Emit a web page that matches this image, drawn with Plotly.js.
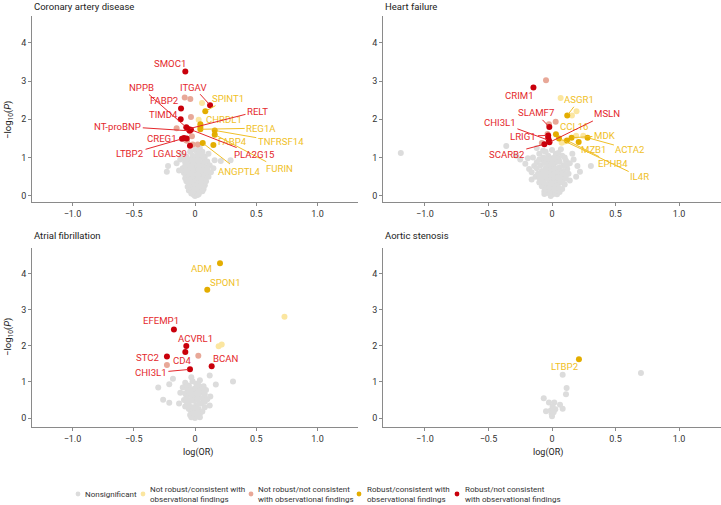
<!DOCTYPE html>
<html><head><meta charset="utf-8">
<script src="https://cdn.plot.ly/plotly-3.0.1.min.js"></script>
<style>html,body{margin:0;padding:0;background:#fff}#chart{width:721px;height:505px}</style>
</head><body><div id="chart"></div>
<script>
// ---------------- DATA ----------------
const categories = ['Nonsignificant',
  'Not robust/consistent with<br>observational findings',
  'Not robust/not consistent<br>with observational findings',
  'Robust/consistent with<br>observational findings',
  'Robust/not consistent<br>with observational findings'];
const panelTitles = ['Coronary artery disease', 'Heart failure', 'Atrial fibrillation', 'Aortic stenosis'];
const xTickVals = [-1, -0.5, 0, 0.5, 1];
const xTickText = ['−1.0', '−0.5', '0', '0.5', '1.0'];
const yTickVals = [0, 1, 2, 3, 4];

// Coronary artery disease
const cadGrayX = [-0.22,-0.23,-0.11,0.16,0.21,0.29,0.10,-0.15,-0.12,-0.10,-0.08,-0.07,-0.05,-0.04,-0.02,0.0,0.02,0.04,0.05,0.07,0.08,0.10,0.12,0.09,0.06,0.03,0.01,-0.01,-0.03,-0.06,-0.09,-0.07,-0.05,-0.02,0.0,0.02,0.04,0.06,0.08,0.11,0.07,0.05,0.03,0.01,-0.01,-0.03,-0.05,-0.07,-0.04,-0.02,0.0,0.02,0.04,0.06,0.08,0.05,0.03,0.01,-0.01,-0.03,-0.05,-0.02,0.0,0.02,0.04,0.01,-0.01,0.0,0.02,-0.03,0.03,-0.06,0.07,0.09,-0.08,0.13,-0.13,0.15,0.11,0.06,-0.09,
  -0.06,-0.04,-0.02,0.0,0.02,0.04,0.06,0.08,0.10,-0.08,-0.06,-0.04,-0.02,0.0,0.02,0.04,0.06,0.08,-0.07,-0.05,-0.03,-0.01,0.01,0.03,0.05,0.07,0.09,-0.04,-0.02,0.0,0.02,0.04,0.06,0.08,-0.03,-0.01,0.01,0.03,0.05,0.07,-0.02,0.0,0.02,0.04,0.06,-0.01,0.01,0.03,0.05,-0.05,0.02,0.04,0.03,0.01];
const cadGrayY = [0.78,0.63,1.10,0.93,0.91,0.93,0.65,0.85,0.95,0.72,0.88,1.02,0.95,1.15,1.05,1.20,1.12,1.25,1.08,0.98,1.02,0.90,0.80,0.75,0.85,0.92,0.82,0.90,0.78,0.70,0.60,0.55,0.62,0.68,0.72,0.66,0.74,0.62,0.55,0.50,0.45,0.52,0.56,0.50,0.58,0.48,0.42,0.38,0.30,0.36,0.40,0.44,0.38,0.32,0.28,0.22,0.27,0.30,0.24,0.18,0.14,0.10,0.15,0.20,0.12,0.06,0.03,0.00,0.02,0.06,0.08,0.24,0.18,0.38,0.46,0.62,0.66,0.72,1.10,1.15,0.97,
  0.95,0.85,0.95,1.00,0.96,1.00,1.05,0.88,0.72,0.78,0.82,0.72,0.80,0.86,0.78,0.86,0.78,0.66,0.66,0.52,0.60,0.66,0.62,0.68,0.66,0.58,0.62,0.40,0.46,0.52,0.56,0.48,0.44,0.40,0.28,0.34,0.40,0.34,0.30,0.32,0.18,0.25,0.30,0.20,0.12,0.12,0.18,0.04,0.36,0.32,1.05,1.15,1.20,0.94];
const cadNrcX = [0.057, 0.03];
const cadNrcY = [2.43, 1.99];
const cadNrnX = [-0.084,-0.038,-0.033,-0.15,-0.025,-0.065,-0.019,0.022,-0.074];
const cadNrnY = [2.57,2.53,2.06,1.77,1.56,1.44,1.34,1.34,1.46];
const cadRcNames = ['SPINT1','CHRDL1','','REG1A','TNFRSF14','FURIN','FABP4','ANGPTL4'];
const cadRcX = [0.084,0.044,0.044,0.044,0.161,0.161,0.15,0.063];
const cadRcY = [2.21,1.87,1.80,1.74,1.71,1.60,1.33,1.38];
const cadRnNames = ['SMOC1','ITGAV','FABP2','TIMD4','NPPB','RELT','NT-proBNP','PLA2G15','CREG1','LTBP2','','LGALS9'];
const cadRnX = [-0.079,0.123,-0.114,-0.117,-0.071,-0.054,-0.044,-0.033,-0.09,-0.106,-0.068,-0.041];
const cadRnY = [3.25,2.37,2.28,2.00,1.79,1.75,1.70,1.73,1.51,1.49,1.50,1.31];

// Heart failure
const hfGrayX = [-1.19,-0.36,-0.21,-0.16,0.306,0.22,-0.28,-0.25,-0.12,-0.10,-0.15,-0.18,-0.14,-0.08,-0.05,-0.03,0.0,0.03,0.05,0.08,0.11,0.14,0.17,0.12,0.09,0.06,0.03,0.01,-0.02,-0.05,-0.08,-0.11,-0.13,-0.09,-0.06,-0.03,0.0,0.02,0.05,0.08,0.11,0.14,0.10,0.07,0.04,0.01,-0.02,-0.05,-0.08,-0.04,-0.01,0.02,0.05,0.08,0.03,0.0,-0.03,-0.06,0.01,-0.01,0.04,-0.10,0.13,-0.16,0.19,-0.12,0.16,-0.07,0.07,-0.19,0.20,-0.02,0.06,
  -0.10,-0.07,-0.04,-0.01,0.02,0.05,0.10,-0.12,-0.09,-0.06,-0.03,0.0,0.03,0.06,0.09,0.12,-0.10,-0.07,-0.04,-0.01,0.02,0.05,0.08,0.11,-0.07,-0.04,-0.01,0.02,0.05,0.08,-0.05,-0.02,0.01,0.04,0.06,-0.02,0.02,-0.06];
const hfGrayY = [1.12,1.30,0.84,0.43,0.78,0.63,1.05,0.95,1.25,1.10,1.00,0.70,0.78,0.95,1.15,1.05,1.20,1.10,0.98,1.05,0.92,0.85,0.95,0.70,0.80,0.75,0.88,0.78,0.85,0.72,0.65,0.58,0.50,0.42,0.50,0.60,0.65,0.58,0.55,0.48,0.45,0.40,0.30,0.35,0.40,0.44,0.38,0.30,0.25,0.20,0.26,0.30,0.22,0.18,0.12,0.15,0.10,0.12,0.05,0.00,0.04,0.35,0.58,0.62,0.50,0.88,1.10,1.18,1.22,0.98,0.78,0.50,0.65,
  0.95,1.00,0.92,0.98,1.00,1.12,1.00,0.72,0.80,0.86,0.76,0.90,0.72,0.90,0.65,0.82,0.48,0.55,0.62,0.70,0.68,0.62,0.58,0.55,0.38,0.45,0.52,0.45,0.48,0.36,0.18,0.22,0.32,0.28,0.10,0.06,0.20,0.05];
const hfNrcX = [0.068,0.193,0.157,0.246,0.19,0.076,0.10];
const hfNrcY = [2.56,2.21,2.10,1.57,1.57,1.39,1.42];
const hfNrnX = [-0.047,0.029,-0.024,-0.08,-0.035];
const hfNrnY = [3.02,1.94,1.87,1.38,1.62];
const hfRcNames = ['ASGR1','CCL16','IL4R','EPHB4','MDK','MZB1','ACTA2'];
const hfRcX = [0.12,0.031,0.055,0.118,0.154,0.21,0.28];
const hfRcY = [2.10,1.61,1.50,1.45,1.52,1.41,1.52];
const hfRnNames = ['CRIM1','SLAMF7','LRIG1','','CHI3L1','MSLN','SCARB2'];
const hfRnX = [-0.146,-0.021,-0.03,-0.03,-0.024,-0.02,-0.06];
const hfRnY = [2.83,1.80,1.58,1.51,1.45,1.40,1.35];

// Atrial fibrillation
const afGrayX = [-0.30,-0.26,-0.21,-0.21,-0.18,-0.03,0.12,0.31,0.17,0.125,-0.12,-0.10,-0.08,-0.05,-0.02,0.01,0.04,0.07,0.09,0.05,0.02,-0.01,-0.04,-0.07,-0.09,-0.06,-0.03,0.0,0.03,0.06,0.08,0.10,0.04,0.01,-0.02,-0.05,-0.08,-0.03,0.0,0.03,0.06,0.02,-0.01,0.0,0.04,-0.04,0.12,-0.13,0.08,-0.06,
  -0.06,-0.03,0.0,0.03,0.06,-0.08,-0.05,-0.02,0.01,0.04,0.07,-0.07,-0.04,-0.01,0.02,0.05,0.08,-0.05,-0.02,0.01,0.04,-0.03,0.02,-0.01];
const afGrayY = [0.85,0.51,0.42,0.94,1.09,1.13,1.18,1.01,0.93,0.60,0.70,0.85,0.98,0.90,1.02,0.95,1.05,0.88,0.78,0.75,0.82,0.72,0.65,0.58,0.50,0.42,0.50,0.58,0.62,0.55,0.45,0.52,0.40,0.35,0.30,0.25,0.32,0.15,0.20,0.25,0.18,0.08,0.05,0.00,0.02,0.08,0.35,0.40,0.65,0.78,
  0.88,0.80,0.82,0.90,0.80,0.68,0.72,0.62,0.68,0.70,0.72,0.46,0.50,0.48,0.50,0.40,0.30,0.38,0.22,0.28,0.12,0.02,0.15,0.12];
const afNrcX = [0.73,0.193,0.218];
const afNrcY = [2.81,1.99,2.04];
const afNrnX = [-0.229,0.027];
const afNrnY = [1.47,1.73];
const afRcNames = ['ADM','SPON1'];
const afRcX = [0.204,0.10];
const afRcY = [4.30,3.56];
const afRnNames = ['EFEMP1','ACVRL1','CD4','STC2','CHI3L1','BCAN'];
const afRnX = [-0.172,-0.071,-0.079,-0.229,-0.041,0.136];
const afRnY = [2.46,2.00,1.83,1.71,1.35,1.44];

// Aortic stenosis
const asGrayX = [0.084,0.70,0.115,0.11,-0.065,-0.024,0.018,0.063,-0.047,-0.01,0.026,0.005,0.084,0.0,-0.003,0.013];
const asGrayY = [1.20,1.25,0.83,0.66,0.55,0.43,0.43,0.37,0.19,0.21,0.24,0.32,0.26,0.05,0.12,0.16];
const asNrcX = [], asNrcY = [];
const asNrnX = [], asNrnY = [];
const asRcNames = ['LTBP2'];
const asRcX = [0.212];
const asRcY = [1.63];
const asRnNames = [], asRnX = [], asRnY = [];

// ---------------- LABEL PLACEMENT (text centre in data units, leader line?) ----------------
const labelPlacement = [
  { // CAD
    SMOC1:[-0.20,3.45,false], ITGAV:[-0.01,2.84,true], FABP2:[-0.25,2.50,false], TIMD4:[-0.26,2.12,false],
    NPPB:[-0.44,2.83,true], 'NT-proBNP':[-0.63,1.82,true], RELT:[0.51,2.21,true], CREG1:[-0.27,1.49,false],
    LTBP2:[-0.53,1.10,true], LGALS9:[-0.20,1.10,false], PLA2G15:[0.485,1.08,true],
    SPINT1:[0.27,2.54,true], CHRDL1:[0.24,2.00,false], REG1A:[0.54,1.77,true], TNFRSF14:[0.70,1.41,true],
    FABP4:[0.31,1.41,false], ANGPTL4:[0.36,0.65,true], FURIN:[0.69,0.71,true]
  },
  { // HF
    CRIM1:[-0.256,2.63,false], SLAMF7:[-0.128,2.17,true], CHI3L1:[-0.41,1.92,true], LRIG1:[-0.225,1.56,true],
    SCARB2:[-0.356,1.09,true], MSLN:[0.434,2.14,true], ASGR1:[0.214,2.51,true], CCL16:[0.175,1.82,false],
    MDK:[0.416,1.57,true], ACTA2:[0.617,1.21,true], MZB1:[0.33,1.21,false], EPHB4:[0.48,0.84,true], IL4R:[0.69,0.50,true]
  },
  { // AF
    ADM:[0.054,4.14,false], SPON1:[0.248,3.77,false], EFEMP1:[-0.278,2.70,false], ACVRL1:[0.0,2.20,false],
    CD4:[-0.106,1.59,false], STC2:[-0.387,1.67,false], CHI3L1:[-0.36,1.25,true], BCAN:[0.245,1.64,false]
  },
  { // AS
    LTBP2:[0.10,1.42,false]
  }
];

// ---------------- STYLE ----------------
const FONT = 'Roboto, "Noto Sans", sans-serif';
const catColors = ['#dcdcdc', '#fbe6a0', '#e8a898', '#e3ad00', '#c9000b'];
const redText = '#e4282c', yellowText = '#f0bf27';
const labelSize = 9.6;

const panels = [
  {gx:cadGrayX, gy:cadGrayY, nrcx:cadNrcX, nrcy:cadNrcY, nrnx:cadNrnX, nrny:cadNrnY, rcx:cadRcX, rcy:cadRcY, rcn:cadRcNames, rnx:cadRnX, rny:cadRnY, rnn:cadRnNames},
  {gx:hfGrayX, gy:hfGrayY, nrcx:hfNrcX, nrcy:hfNrcY, nrnx:hfNrnX, nrny:hfNrnY, rcx:hfRcX, rcy:hfRcY, rcn:hfRcNames, rnx:hfRnX, rny:hfRnY, rnn:hfRnNames},
  {gx:afGrayX, gy:afGrayY, nrcx:afNrcX, nrcy:afNrcY, nrnx:afNrnX, nrny:afNrnY, rcx:afRcX, rcy:afRcY, rcn:afRcNames, rnx:afRnX, rny:afRnY, rnn:afRnNames},
  {gx:asGrayX, gy:asGrayY, nrcx:asNrcX, nrcy:asNrcY, nrnx:asNrnX, nrny:asNrnY, rcx:asRcX, rcy:asRcY, rcn:asRcNames, rnx:asRnX, rny:asRnY, rnn:asRnNames}
];

const traces = [];
const annotations = [];
const shapes = [];
panels.forEach((p, i) => {
  const xa = i === 0 ? 'x' : 'x' + (i + 1);
  const ya = i === 0 ? 'y' : 'y' + (i + 1);
  const sets = [[p.gx, p.gy], [p.nrcx, p.nrcy], [p.nrnx, p.nrny], [p.rcx, p.rcy], [p.rnx, p.rny]];
  sets.forEach((s, c) => {
    if (!s[0].length) return;
    traces.push({
      type: 'scatter', mode: 'markers', x: s[0], y: s[1], xaxis: xa, yaxis: ya,
      name: categories[c], showlegend: false,
      marker: {color: catColors[c], size: 6, line: {width: 0}},
      hoverinfo: 'skip'
    });
  });
  const place = labelPlacement[i];
  const addLabels = (xs, ys, names, col) => {
    names.forEach((n, k) => {
      if (!n || !place[n]) return;
      const [lx, ly, line] = place[n];
      if (line) {
        annotations.push({x: xs[k], y: ys[k], xref: xa, yref: ya, ax: lx, ay: ly, axref: xa, ayref: ya,
          text: n, showarrow: true, arrowhead: 0, arrowwidth: 1, arrowcolor: col, standoff: 2,
          font: {family: FONT, size: labelSize, color: col}});
      } else {
        annotations.push({x: lx, y: ly, xref: xa, yref: ya, text: n, showarrow: false,
          font: {family: FONT, size: labelSize, color: col}});
      }
    });
  };
  addLabels(p.rcx, p.rcy, p.rcn, yellowText);
  addLabels(p.rnx, p.rny, p.rnn, redText);
});

// panel titles and axis titles
const titlePos = [[32, 6], [383, 6], [32, 236], [383, 236]];
panelTitles.forEach((t, i) => {
  annotations.push({xref: 'paper', yref: 'paper', x: titlePos[i][0] / 721, y: 1 - titlePos[i][1] / 505,
    xanchor: 'left', yanchor: 'middle', text: t, showarrow: false, font: {family: FONT, size: 9.5, color: '#222'}});
});
[[8, 120], [8, 337]].forEach(pos => {
  annotations.push({xref: 'paper', yref: 'paper', x: pos[0] / 721, y: 1 - pos[1] / 505, xanchor: 'center', yanchor: 'middle',
    text: '−log<sub>10</sub>(<i>P</i>)', textangle: -90, showarrow: false, font: {family: FONT, size: 9.5, color: '#222'}});
});
[[198, 452], [548, 452]].forEach(pos => {
  annotations.push({xref: 'paper', yref: 'paper', x: pos[0] / 721, y: 1 - pos[1] / 505, xanchor: 'center', yanchor: 'middle',
    text: 'log(OR)', showarrow: false, font: {family: FONT, size: 9, color: '#222'}});
});

// legend (key drawn at the bottom)
const legendMarkX = [78, 143, 251, 359, 457];
const legendTextX = [83, 148, 256, 365, 463];
const legendY = 494;
categories.forEach((c, k) => {
  const r = 2.4;
  shapes.push({type: 'circle', xref: 'paper', yref: 'paper', line: {width: 0}, fillcolor: catColors[k],
    x0: (legendMarkX[k] - r) / 721, x1: (legendMarkX[k] + r) / 721,
    y0: 1 - (legendY + r) / 505, y1: 1 - (legendY - r) / 505});
  annotations.push({xref: 'paper', yref: 'paper', x: legendTextX[k] / 721, y: 1 - legendY / 505,
    xanchor: 'left', yanchor: 'middle', align: 'left', text: c, showarrow: false,
    font: {family: FONT, size: 8, color: '#333'}});
});

const axBase = {showline: true, linecolor: '#8a8a8a', linewidth: 1, ticks: 'outside', ticklen: 3, tickwidth: 1,
  tickcolor: '#8a8a8a', showgrid: false, zeroline: false, tickfont: {family: FONT, size: 9, color: '#333'}, fixedrange: true};
const xAx = d => Object.assign({}, axBase, {domain: d, range: [-1.33, 1.33], tickvals: xTickVals, ticktext: xTickText});
const yAx = (d, r, anchor) => Object.assign({}, axBase, {domain: d, range: r, tickvals: yTickVals, anchor: anchor});

const L = [32 / 721, 358 / 721], R = [383 / 721, 1];
const T = [1 - 202 / 505, 1 - 16 / 505], B = [1 - 427 / 505, 1 - 248 / 505];

const layout = {
  width: 721, height: 505, margin: {l: 0, r: 0, t: 0, b: 0},
  paper_bgcolor: '#fff', plot_bgcolor: '#fff',
  font: {family: FONT, size: 10, color: '#222'},
  xaxis: Object.assign(xAx(L), {anchor: 'y'}), yaxis: yAx(T, [-0.16, 4.7], 'x'),
  xaxis2: Object.assign(xAx(R), {anchor: 'y2'}), yaxis2: yAx(T, [-0.16, 4.7], 'x2'),
  xaxis3: Object.assign(xAx(L), {anchor: 'y3'}), yaxis3: yAx(B, [-0.25, 4.72], 'x3'),
  xaxis4: Object.assign(xAx(R), {anchor: 'y4'}), yaxis4: yAx(B, [-0.25, 4.72], 'x4'),
  showlegend: false,
  annotations: annotations,
  shapes: shapes
};

Plotly.newPlot('chart', traces, layout, {staticPlot: true, displayModeBar: false});
</script></body></html>
